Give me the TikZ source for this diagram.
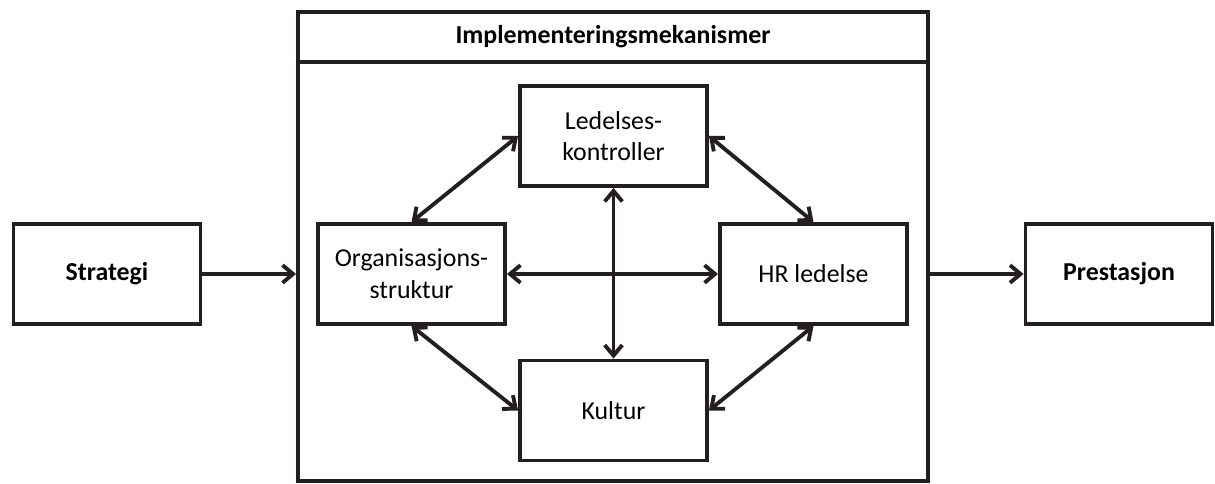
\documentclass[tikz,border=0pt]{standalone}
\usepackage{fontspec}
\setmainfont{Carlito}
\usepackage{tikz}
\usetikzlibrary{arrows.meta,positioning}

\definecolor{mork}{RGB}{35,31,32}
\newcommand{\diagfont}{\fontsize{14.7}{18}\selectfont}

\begin{document}
\begin{tikzpicture}[
  blokk/.style={draw=mork, line width=2.2pt, minimum width=3.74cm, minimum height=2cm, align=center, font=\diagfont},
  fet/.style={font=\diagfont\bfseries},
  pil/.style={draw=mork, line width=2.2pt, -{Straight Barb[length=6pt,width=10pt]}},
  dpil/.style={pil, {Straight Barb[length=6pt,width=10pt]}-{Straight Barb[length=6pt,width=10pt]}}
  ]
\useasboundingbox (0,0) rectangle (24.3,9.68);

% ramme med tittel
\node[draw=mork, line width=2.2pt, minimum width=12.6cm, minimum height=9.38cm] (impl) at (12.26,4.75) {};
\node[draw=mork, line width=2.2pt, minimum width=12.6cm, minimum height=1cm, anchor=north, fet] (tittel) at (impl.north) {Implementeringsmekanismer};

% boksene
\node[blokk, fet] (strategi)   at (2.14,4.2)  {Strategi};
\node[blokk, fet] (prestasjon) at (22.38,4.2) {Prestasjon};
\node[blokk] (ledelse) at (12.27,6.96) {Ledelses-\\kontroller};
\node[blokk] (org)     at (8.23,4.2)   {Organisasjons-\\struktur};
\node[blokk] (hr)      at (16.27,4.2)  {HR ledelse};
\node[blokk] (kultur)  at (12.27,1.47) {Kultur};

% piler inn og ut
\draw[pil] (strategi.east) -- (strategi.east -| impl.west);
\draw[pil] (hr.east -| impl.east) -- (prestasjon.west);

% piler mellom mekanismene
\draw[dpil] (org.east) -- (hr.west);
\draw[dpil] (ledelse.south) -- (kultur.north);
\draw[dpil] (org.north) -- (ledelse.west);
\draw[dpil] (ledelse.east) -- (hr.north);
\draw[dpil] (org.south) -- (kultur.west);
\draw[dpil] (kultur.east) -- (hr.south);

\end{tikzpicture}
\end{document}
